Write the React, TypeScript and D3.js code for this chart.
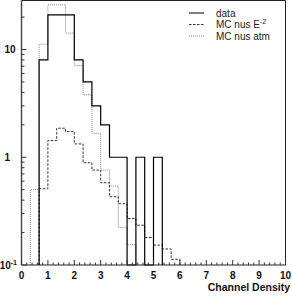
import React from 'react';
import * as d3 from 'd3';

// histogram binning (Channel Density, 30 bins over 0..10)
const binWidth = 1 / 3;
const dataStart = 2 / 3;
const dataCounts = [8, 21, 21, 21, 8, 5, 3, 2, 1, 1, 0, 1, 0, 1];
const e2Start = 2 / 3;
const e2Values = [0.51, 1.43, 1.86, 1.73, 1.33, 0.89, 0.76, 0.58, 0.43, 0.37, 0.27, 0.234, 0.18, 0.153, 0.141, 0.113];
const atmStart = 1 / 3;
const atmValues = [0.5, 11.2, 26, 26, 14.2, 7.1, 3.8, 1.67, 0.76, 0.54, 0.224, 0.154];

const xTicks = d3.range(0, 11);
const yMajor = [0.1, 1, 10];
const yLabels = ['10', '1', '10'];
const ySup = ['-1', '', ''];
const legendNames = ['data', 'MC nus E', 'MC nus atm'];

const W = 292;
const H = 297;
const yMin = 0.1;
const yMax = 28.5;

const x = d3.scaleLinear().domain([0, 10]).range([21.5, 285.5]);
const y = d3.scaleLog().domain([yMin, yMax]).range([265, 0.5]);

const stepPath = (start: number, values: number[]) => {
  const pts: [number, number][] = [[start, yMin]];
  values.forEach((v, i) => pts.push([start + i * binWidth, Math.max(v, yMin)]));
  const end = start + values.length * binWidth;
  pts.push([end, Math.max(values[values.length - 1], yMin)]);
  pts.push([end, yMin]);
  return d3
    .line<[number, number]>()
    .x(d => x(d[0]))
    .y(d => y(d[1]))
    .curve(d3.curveStepAfter)(pts) as string;
};

const styles = [
  { stroke: '#000', dash: 'none', width: 1.2 },
  { stroke: '#333', dash: '2.5,1.5', width: 1 },
  { stroke: '#888', dash: '1,1', width: 1 }
];

const App = () => {
  const minorY: number[] = [];
  [0.1, 1, 10].forEach(d => {
    for (let k = 2; k <= 9; k++) {
      const v = d * k;
      if (v < yMax) minorY.push(v);
    }
  });
  const minorX = d3.range(0, 10.001, 0.2).filter(v => Math.abs(v - Math.round(v)) > 1e-6);

  const paths = [stepPath(dataStart, dataCounts), stepPath(e2Start, e2Values), stepPath(atmStart, atmValues)];

  const font = '"Liberation Sans", Arial, sans-serif';
  const x0 = x(0), x1 = x(10), yb = y(yMin), yt = y(yMax);

  return (
    <svg width={W} height={H} style={{ position: 'absolute', left: 0, top: 0, background: '#fff' }}>
      <rect x={0} y={0} width={W} height={H} fill="#fff" />
      {/* histograms */}
      <path d={paths[2]} fill="none" stroke={styles[2].stroke} strokeWidth={styles[2].width} strokeDasharray={styles[2].dash} />
      <path d={paths[1]} fill="none" stroke={styles[1].stroke} strokeWidth={styles[1].width} strokeDasharray={styles[1].dash} />
      <path d={paths[0]} fill="none" stroke={styles[0].stroke} strokeWidth={styles[0].width} />

      {/* frame */}
      <line x1={x0} x2={x1} y1={yt} y2={yt} stroke="#222" />
      <line x1={x1} x2={x1} y1={yt} y2={yb} stroke="#222" />
      <line x1={x0} x2={x0} y1={yt} y2={yb} stroke="#444" strokeWidth={1.4} />
      <line x1={x0} x2={x1} y1={yb} y2={yb} stroke="#222" />

      {/* x ticks */}
      {xTicks.map(t => (
        <line key={'xt' + t} x1={x(t)} x2={x(t)} y1={yb} y2={yb - 5} stroke="#333" />
      ))}
      {minorX.map(t => (
        <line key={'xm' + t} x1={x(t)} x2={x(t)} y1={yb} y2={yb - 2.5} stroke="#333" />
      ))}
      {xTicks.map(t => (
        <text key={'xl' + t} x={x(t)} y={279} textAnchor="middle" fontFamily={font} fontWeight="bold" fontSize={10} fill="#111">
          {t}
        </text>
      ))}
      <text x={290} y={291} textAnchor="end" fontFamily={font} fontWeight="bold" fontSize={10.5} fill="#111">
        Channel Density
      </text>

      {/* y ticks */}
      {yMajor.map(t => (
        <line key={'yt' + t} x1={x0} x2={x0 + 5} y1={y(t)} y2={y(t)} stroke="#333" />
      ))}
      {minorY.map(t => (
        <line key={'ym' + t} x1={x0} x2={x0 + 3} y1={y(t)} y2={y(t)} stroke="#333" />
      ))}
      {yMajor.map((t, i) => (
        <text key={'yl' + t} x={ySup[i] ? 17 : yLabels[i] === '1' ? 10 : 15.5} y={y(t) + 3.5} textAnchor="end" fontFamily={font} fontWeight="bold" fontSize={10} fill="#111">
          {yLabels[i]}
          {ySup[i] && (
            <tspan fontSize={7} dy={-4}>
              {ySup[i]}
            </tspan>
          )}
        </text>
      ))}

      {/* legend */}
      {legendNames.map((name, i) => {
        const ly = 13 + i * 11.5;
        return (
          <g key={name}>
            <line x1={189} x2={204} y1={ly} y2={ly} stroke={styles[i].stroke} strokeWidth={1} strokeDasharray={styles[i].dash} />
            <text x={216} y={ly + 3.5} fontFamily={font} fontSize={10} fill="#222">
              {name}
              {i === 1 && (
                <tspan fontSize={7} dy={-4}>
                  -2
                </tspan>
              )}
            </text>
          </g>
        );
      })}
    </svg>
  );
};

export default App;
